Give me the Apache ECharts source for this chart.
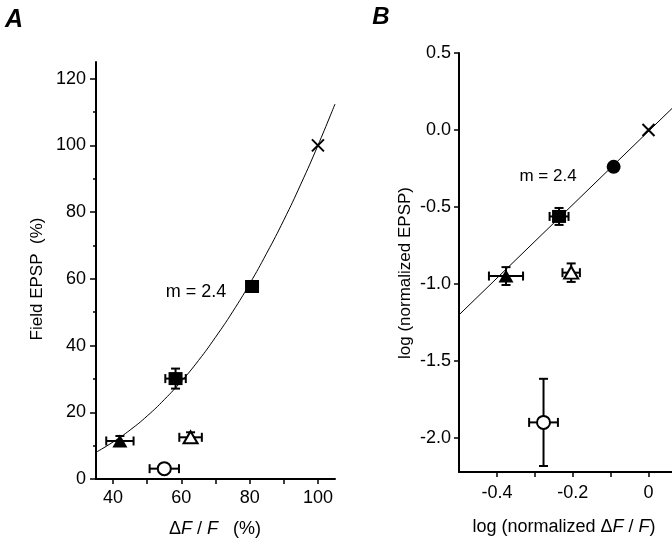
<!DOCTYPE html>
<html>
<head>
<meta charset="utf-8">
<script src="https://cdn.jsdelivr.net/npm/echarts@6/dist/echarts.min.js"></script>
<style>html,body{margin:0;padding:0;background:#fff}#c{width:672px;height:543px}</style>
</head>
<body>
<div id="c"></div>
<script>
// ---------- Panel A data ----------
var aXTicks = [40, 60, 80, 100];
var aXAllTicks = [40, 50, 60, 70, 80, 90, 100];
var aYTicks = [0, 20, 40, 60, 80, 100, 120];
var aYMinor = [10, 30, 50, 70, 90, 110];
// points: [x, y, xErr, yErr]
var aFilledTri = [[42.0, 11.4, 4.0, 1.5]];
var aOpenCircle = [[55.0, 3.1, 4.3, 0.8]];
var aOpenTri = [[62.7, 12.5, 3.3, 1.5]];
var aFilledSq = [[58.3, 30.1, 3.0, 3.0], [80.7, 57.7, 1.5, 0.8]];
var aCross = [[100, 100]];
var aFitX = [35, 40, 45, 50, 55, 60, 65, 70, 75, 80, 85, 90, 95, 100, 105];
var aFitY = [8, 11.1, 14.7, 18.9, 23.8, 29.3, 35.5, 42.5, 50.1, 58.5, 67.7, 77.6, 88.4, 100, 112.4];

// ---------- Panel B data ----------
var bXTicks = [-0.4, -0.2, 0];
var bXAllTicks = [-0.4, -0.3, -0.2, -0.1, 0];
var bYTicks = [0.5, 0, -0.5, -1.0, -1.5, -2.0];
var bFilledTri = [[-0.376, -0.948, 0.045, 0.058]];
var bOpenTri = [[-0.204, -0.926, 0.023, 0.06]];
var bOpenCircle = [[-0.277, -1.898, 0.038, 0.283]];
var bFilledSq = [[-0.236, -0.561, 0.025, 0.055]];
var bFilledCircle = [[-0.092, -0.239]];
var bCross = [[0, 0]];
var bFitX = [-0.5, 0.062];
var bFitY = [-1.2, 0.14];

var FONT = '"Liberation Sans", Arial, Helvetica, sans-serif';
var crossPath = 'path://M0,0L10,10M10,0L0,10';

function errBars(data, xi, yi, z) {
  return {
    type: 'custom', xAxisIndex: xi, yAxisIndex: yi, z: z || 2,
    data: data,
    renderItem: function (params, api) {
      var x = api.value(0), y = api.value(1), xe = api.value(2), ye = api.value(3);
      var l = api.coord([x - xe, y]), r = api.coord([x + xe, y]);
      var t = api.coord([x, y + ye]), b = api.coord([x, y - ye]);
      var cap = 4.5;
      var st = {stroke: '#000', lineWidth: 2, fill: null};
      var ch = [];
      ch.push({type: 'line', shape: {x1: l[0], y1: l[1], x2: r[0], y2: r[1]}, style: st});
      ch.push({type: 'line', shape: {x1: l[0], y1: l[1] - cap, x2: l[0], y2: l[1] + cap}, style: st});
      ch.push({type: 'line', shape: {x1: r[0], y1: r[1] - cap, x2: r[0], y2: r[1] + cap}, style: st});
      if (Math.abs(b[1] - t[1]) > 1) {
        ch.push({type: 'line', shape: {x1: t[0], y1: t[1], x2: b[0], y2: b[1]}, style: st});
        ch.push({type: 'line', shape: {x1: t[0] - cap, y1: t[1], x2: t[0] + cap, y2: t[1]}, style: st});
        ch.push({type: 'line', shape: {x1: b[0] - cap, y1: b[1], x2: b[0] + cap, y2: b[1]}, style: st});
      }
      return {type: 'group', children: ch};
    }
  };
}

function sc(data, xi, yi, symbol, size, fill, bw) {
  return {
    type: 'scatter', xAxisIndex: xi, yAxisIndex: yi, z: 5,
    data: data.map(function (d) { return [d[0], d[1]]; }),
    symbol: symbol, symbolSize: size,
    itemStyle: {color: fill, borderColor: '#000', borderWidth: bw || 0, opacity: 1},
    emphasis: {disabled: true}, silent: true
  };
}

function axLine() { return {show: true, onZero: false, lineStyle: {color: '#000', width: 2}}; }
var labelStyle = {color: '#000', fontFamily: FONT, fontSize: 18};

var option = {
  backgroundColor: '#fff',
  animation: false,
  grid: [
    {left: 96, top: 62, width: 239, height: 417, containLabel: false, outerBoundsMode: 'none'},
    {left: 459, top: 53, width: 213, height: 419, containLabel: false, outerBoundsMode: 'none'}
  ],
  xAxis: [
    {type: 'value', gridIndex: 0, min: 35, max: 105, position: 'bottom',
      axisLine: axLine(), splitLine: {show: false},
      axisTick: {show: true, customValues: aXAllTicks, length: 5, lineStyle: {color: '#000', width: 1.5}},
      axisLabel: Object.assign({customValues: aXTicks, margin: 10}, labelStyle)},
    {type: 'value', gridIndex: 1, min: -0.5, max: 0.062, position: 'bottom',
      axisLine: axLine(), splitLine: {show: false},
      axisTick: {show: true, customValues: bXAllTicks, length: 5, lineStyle: {color: '#000', width: 1.5}},
      axisLabel: Object.assign({customValues: bXTicks, margin: 12,
        formatter: function (v) { return Math.abs(v) < 1e-9 ? '0' : v.toFixed(1); }}, labelStyle)}
  ],
  yAxis: [
    {type: 'value', gridIndex: 0, min: 0, max: 125, position: 'left',
      axisLine: axLine(), splitLine: {show: false},
      axisTick: {show: true, customValues: aYTicks, length: 6, lineStyle: {color: '#000', width: 1.5}},
      axisLabel: Object.assign({customValues: aYTicks, margin: 10}, labelStyle)},
    {type: 'value', gridIndex: 1, min: -2.22, max: 0.5, position: 'left',
      axisLine: axLine(), splitLine: {show: false},
      axisTick: {show: true, customValues: bYTicks, length: 5, lineStyle: {color: '#000', width: 1.5}},
      axisLabel: Object.assign({customValues: bYTicks, margin: 8,
        formatter: function (v) { return v.toFixed(1); }}, labelStyle)},
    {type: 'value', gridIndex: 0, min: 0, max: 125, position: 'left', offset: 0,
      axisLine: {show: false, onZero: false}, splitLine: {show: false},
      axisTick: {show: true, customValues: aYMinor, length: 3, lineStyle: {color: '#000', width: 1.5}},
      axisLabel: {show: false}}
  ],
  series: [
    {type: 'line', xAxisIndex: 0, yAxisIndex: 0, smooth: 0.5, symbol: 'none', z: 1,
      data: aFitX.map(function (x, i) { return [x, aFitY[i]]; }),
      lineStyle: {color: '#000', width: 1}, silent: true},
    {type: 'line', xAxisIndex: 1, yAxisIndex: 1, symbol: 'none', z: 1,
      data: bFitX.map(function (x, i) { return [x, bFitY[i]]; }),
      lineStyle: {color: '#000', width: 1}, silent: true},
    errBars(aFilledTri, 0, 0), errBars(aOpenCircle, 0, 0), errBars(aOpenTri, 0, 0), errBars(aFilledSq, 0, 0),
    errBars(bFilledTri, 1, 1), errBars(bOpenTri, 1, 1), errBars(bOpenCircle, 1, 1), errBars(bFilledSq, 1, 1),
    sc(aFilledTri, 0, 0, 'triangle', [15, 13], '#000'),
    sc(aOpenCircle, 0, 0, 'circle', 13, '#fff', 2),
    sc(aOpenTri, 0, 0, 'triangle', [14, 12], '#fff', 2),
    sc(aFilledSq, 0, 0, 'rect', [14, 13], '#000'),
    sc(aCross, 0, 0, crossPath, 12, 'none', 2),
    sc(bFilledTri, 1, 1, 'triangle', [15, 13], '#000'),
    sc(bOpenTri, 1, 1, 'triangle', [14, 12], '#fff', 2),
    sc(bOpenCircle, 1, 1, 'circle', 13, '#fff', 2),
    sc(bFilledSq, 1, 1, 'rect', [14, 13], '#000'),
    sc(bFilledCircle, 1, 1, 'circle', 14, '#000'),
    sc(bCross, 1, 1, crossPath, 12, 'none', 2)
  ],
  graphic: [
    {type: 'text', x: 14, y: 20, style: {text: 'A', font: 'italic bold 25px ' + FONT, fill: '#000', align: 'center', verticalAlign: 'middle'}},
    {type: 'text', x: 381, y: 17, style: {text: 'B', font: 'italic bold 24px ' + FONT, fill: '#000', align: 'center', verticalAlign: 'middle'}},
    {type: 'text', x: 196, y: 292, style: {text: 'm = 2.4', font: '18px ' + FONT, fill: '#000', align: 'center', verticalAlign: 'middle'}},
    {type: 'text', x: 548, y: 176, style: {text: 'm = 2.4', font: '17px ' + FONT, fill: '#000', align: 'center', verticalAlign: 'middle'}},
    {type: 'text', x: 37, y: 279, rotation: Math.PI / 2,
      style: {text: 'Field EPSP  (%)', font: '17px ' + FONT, fill: '#000', align: 'center', verticalAlign: 'middle'}},
    {type: 'text', x: 405, y: 273, rotation: Math.PI / 2,
      style: {text: 'log (normalized EPSP)', font: '17px ' + FONT, fill: '#000', align: 'center', verticalAlign: 'middle'}},
    {type: 'text', x: 215, y: 529,
      style: {text: '{n|Δ}{i|F}{n| / }{i|F}{n|   (%)}', align: 'center', verticalAlign: 'middle', fill: '#000',
        rich: {n: {font: '18px ' + FONT, fill: '#000'}, i: {font: 'italic 18px ' + FONT, fill: '#000'}}}},
    {type: 'text', x: 564, y: 527,
      style: {text: '{n|log (normalized Δ}{i|F}{n| / }{i|F}{n|)}', align: 'center', verticalAlign: 'middle', fill: '#000',
        rich: {n: {font: '18px ' + FONT, fill: '#000'}, i: {font: 'italic 18px ' + FONT, fill: '#000'}}}}
  ]
};
var chart = echarts.init(document.getElementById('c'), null, {renderer: 'canvas'});
chart.setOption(option);
</script>
</body>
</html>
